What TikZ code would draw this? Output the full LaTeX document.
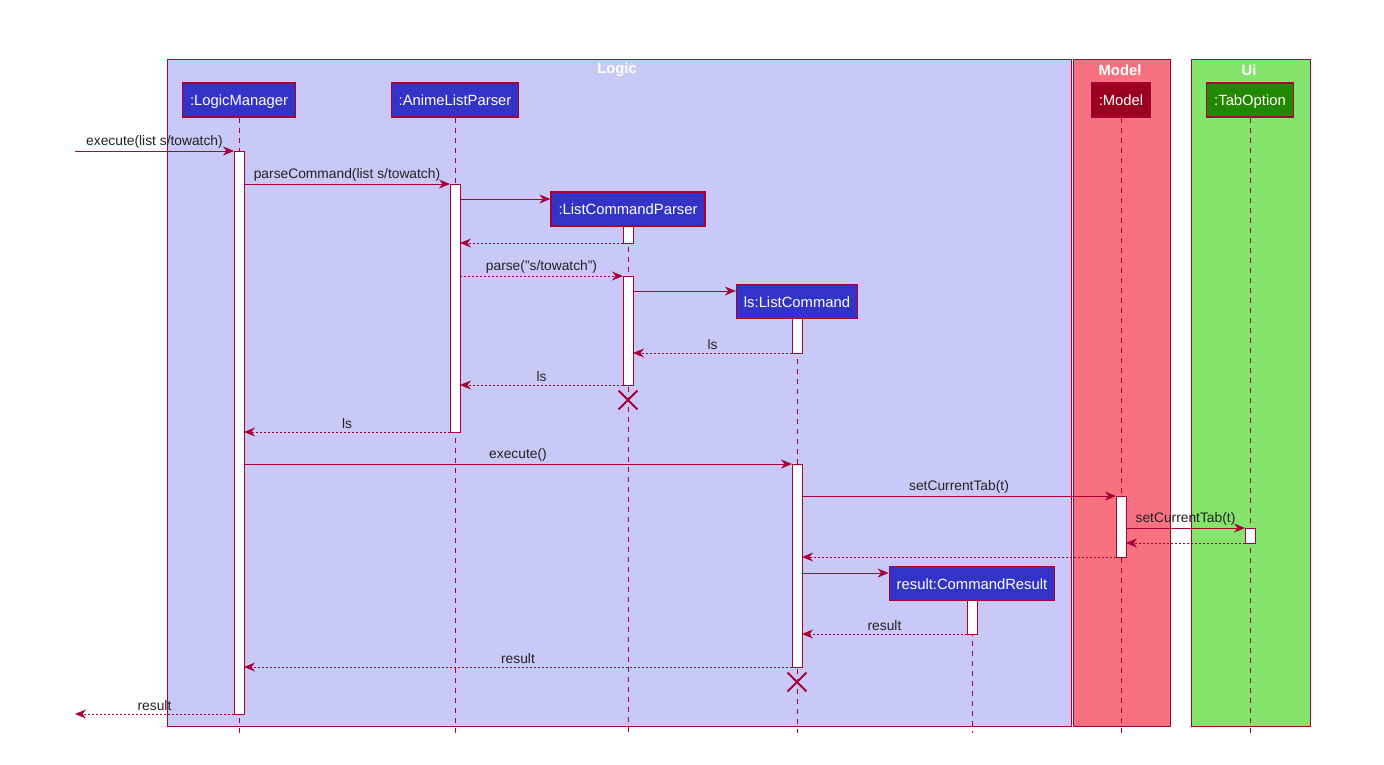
\documentclass[tikz,border=0pt]{standalone}
\usepackage{fontspec}
\setmainfont{Liberation Sans}
\usetikzlibrary{arrows.meta,shapes.misc,calc}
\definecolor{crim}{HTML}{A80036}
\definecolor{logicfill}{HTML}{C9C9F8}
\definecolor{modelfill}{HTML}{F77181}
\definecolor{uifill}{HTML}{84E46C}
\definecolor{partblue}{HTML}{3333C8}
\definecolor{partred}{HTML}{9B0020}
\definecolor{partgreen}{HTML}{228800}
\definecolor{txt}{HTML}{222222}
\begin{document}
\begin{tikzpicture}[x=1pt,y=-1pt,
  frame/.style={draw=crim, line width=1.1pt, anchor=north west, inner sep=0pt},
  ftitle/.style={text=white, font=\fontsize{14.8}{16}\selectfont\bfseries, inner sep=0pt},
  part/.style={draw=crim, line width=1.2pt, fill=partblue, text=white,
    font=\fontsize{14.8}{16}\selectfont, minimum height=34pt, inner xsep=7.5pt, inner ysep=0pt,
    text height=11pt, text depth=0pt},
  act/.style={draw=crim, line width=1pt, fill=white, minimum width=10pt, inner sep=0pt, outer sep=0pt, anchor=north},
  life/.style={draw=crim, line width=0.9pt, dash pattern=on 5pt off 5pt},
  msg/.style={draw=crim, line width=0.9pt, -{Stealth[length=11pt,width=9pt,inset=3.5pt]}},
  ret/.style={msg, dash pattern=on 2pt off 2pt},
  lbl/.style={above, text=txt, font=\fontsize{13.8}{15}\selectfont, inner sep=2.5pt},
  kill/.style={draw=crim, cross out, line width=1.8pt, minimum size=17pt, inner sep=0pt}
]
\useasboundingbox (0,0) rectangle (1384,764);
\fill[white] (0,0) rectangle (1384,764);

% frames
\node[frame, fill=logicfill, minimum width=904pt, minimum height=667pt] (logic) at (167,59) {};
\node[frame, fill=modelfill, minimum width=97pt, minimum height=667pt] (model) at (1073,59) {};
\node[frame, fill=uifill, minimum width=119pt, minimum height=667pt] (ui) at (1191,59) {};
\node[ftitle] (logicT) at (617,70) {Logic};
\node[ftitle] (modelT) at (1120,70) {Model};
\node[ftitle] (uiT) at (1249,70) {Ui};

% participants
\node[part] (lm) at (239,100) {:LogicManager};
\node[part] (alp) at (455,100) {:AnimeListParser};
\node[part] (lcp) at (628,209) {:ListCommandParser};
\node[part] (lc) at (797,301.5) {ls:ListCommand};
\node[part] (cr) at (972,583.5) {result:CommandResult};
\node[part, fill=partred] (mo) at (1121,100) {:Model};
\node[part, fill=partgreen] (to) at (1250,100) {:TabOption};

% lifelines
\coordinate (bot) at (0,733);
\foreach \p in {lm,alp,lcp,lc,cr,mo,to}
  \draw[life] (\p.south) -- (\p.south |- bot);

% activation bars
\node[act, minimum height=563pt] (lmA) at (239,151) {};
\node[act, minimum height=248pt] (alpA) at (455,184) {};
\node[act, minimum height=17pt] (lcpA1) at (628,226) {};
\node[act, minimum height=109pt] (lcpA2) at (628,276) {};
\node[act, minimum height=35pt] (lcA1) at (797,318) {};
\node[act, minimum height=203pt] (lcA2) at (797,464) {};
\node[act, minimum height=61pt] (mA) at (1121,496) {};
\node[act, minimum height=15pt] (toA) at (1250,528) {};
\node[act, minimum height=34pt] (crA) at (972,600) {};

% messages
\coordinate (in) at (75,151);
\coordinate (out) at (75,714);
\coordinate (y3) at (0,199);
\coordinate (y6) at (0,291);
\coordinate (y16) at (0,573);

\draw[msg] (in) -- node[lbl]{execute(list s/towatch)} (lmA.north west);
\draw[msg] (lmA.east |- alpA.north) -- node[lbl]{parseCommand(list s/towatch)} (alpA.north west);
\draw[msg] (alpA.east |- y3) -- (lcp.west |- y3);
\draw[ret] (lcpA1.south west) -- (alpA.east |- lcpA1.south);
\draw[ret] (alpA.east |- lcpA2.north) -- node[lbl]{parse("s/towatch")} (lcpA2.north west);
\draw[msg] (lcpA2.east |- y6) -- (lc.west |- y6);
\draw[ret] (lcA1.south west) -- node[lbl]{ls} (lcpA2.east |- lcA1.south);
\draw[ret] (lcpA2.south west) -- node[lbl]{ls} (alpA.east |- lcpA2.south);
\node[kill] (x1) at (628,400) {};
\draw[ret] (alpA.south west) -- node[lbl]{ls} (lmA.east |- alpA.south);
\draw[msg] (lmA.east |- lcA2.north) -- node[lbl]{execute()} (lcA2.north west);
\draw[msg] (lcA2.east |- mA.north) -- node[lbl]{setCurrentTab(t)} (mA.north west);
\draw[msg] (mA.east |- toA.north) -- node[lbl]{setCurrentTab(t)} (toA.north west);
\draw[ret] (toA.south west) -- (mA.east |- toA.south);
\draw[ret] (mA.south west) -- (lcA2.east |- mA.south);
\draw[msg] (lcA2.east |- y16) -- (cr.west |- y16);
\draw[ret] (crA.south west) -- node[lbl]{result} (lcA2.east |- crA.south);
\draw[ret] (lcA2.south west) -- node[lbl]{result} (lmA.east |- lcA2.south);
\node[kill] (x2) at (797,682) {};
\draw[ret] (lmA.south west) -- node[lbl]{result} (out);
\end{tikzpicture}
\end{document}
